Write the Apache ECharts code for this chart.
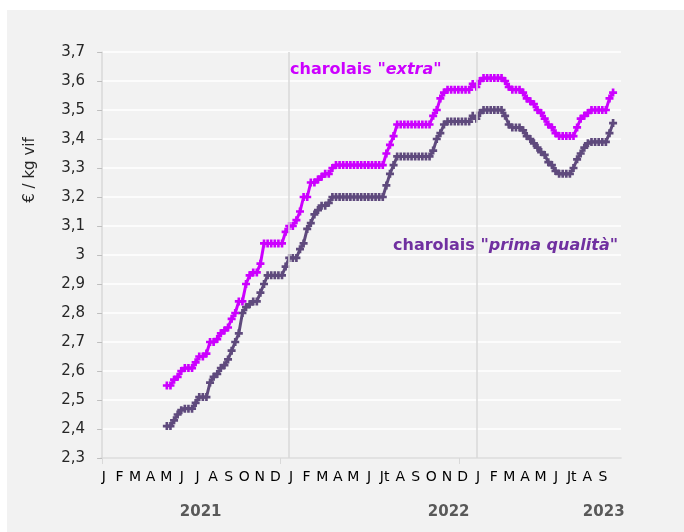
<!DOCTYPE html>
<html>
<head>
<meta charset="utf-8">
<script src="https://cdn.jsdelivr.net/npm/echarts@6/dist/echarts.min.js"></script>
<style>
  html, body { margin: 0; padding: 0; background: #ffffff; }
  #main { width: 684px; height: 532px; }
</style>
</head>
<body>
<div id="main"></div>
<script>
// weeks counted from first week of Jan 2021
var firstWeek = 18;
var extra = [
  2.55, 2.55, 2.57, 2.58, 2.60, 2.61, 2.61, 2.61, 2.63, 2.65, 2.65, 2.66,
  2.70, 2.70, 2.71, 2.73, 2.74, 2.75, 2.78, 2.80, 2.84, 2.84, 2.90, 2.93,
  2.94, 2.94, 2.97, 3.04, 3.04, 3.04, 3.04, 3.04, 3.04, 3.08, 3.10, 3.10,
  3.12, 3.15, 3.20, 3.20, 3.25, 3.25, 3.26, 3.27, 3.28, 3.28, 3.30, 3.31,
  3.31, 3.31, 3.31, 3.31, 3.31, 3.31, 3.31, 3.31, 3.31, 3.31, 3.31, 3.31,
  3.31, 3.35, 3.38, 3.41, 3.45, 3.45, 3.45, 3.45, 3.45, 3.45, 3.45, 3.45,
  3.45, 3.45, 3.48, 3.50, 3.54, 3.56, 3.57, 3.57, 3.57, 3.57, 3.57, 3.57,
  3.57, 3.59, 3.58, 3.60, 3.61, 3.61, 3.61, 3.61, 3.61, 3.61, 3.60, 3.58,
  3.57, 3.57, 3.57, 3.56, 3.54, 3.53, 3.52, 3.50, 3.49, 3.47, 3.45, 3.44,
  3.42, 3.41, 3.41, 3.41, 3.41, 3.41, 3.44, 3.47, 3.48, 3.49, 3.50, 3.50,
  3.50, 3.50, 3.50, 3.54, 3.56
];
var prima = [
  2.41, 2.41, 2.43, 2.45, 2.465, 2.47, 2.47, 2.47, 2.49, 2.51, 2.51, 2.51,
  2.56, 2.58, 2.59, 2.61, 2.62, 2.64, 2.67, 2.70, 2.73, 2.80, 2.82, 2.83,
  2.84, 2.84, 2.87, 2.90, 2.93, 2.93, 2.93, 2.93, 2.93, 2.96, 2.99, 2.99,
  2.99, 3.02, 3.04, 3.09, 3.11, 3.14, 3.155, 3.17, 3.17, 3.18, 3.20, 3.20,
  3.20, 3.20, 3.20, 3.20, 3.20, 3.20, 3.20, 3.20, 3.20, 3.20, 3.20, 3.20,
  3.20, 3.24, 3.28, 3.31, 3.34, 3.34, 3.34, 3.34, 3.34, 3.34, 3.34, 3.34,
  3.34, 3.34, 3.36, 3.40, 3.42, 3.45, 3.46, 3.46, 3.46, 3.46, 3.46, 3.46,
  3.46, 3.48, 3.47, 3.49, 3.50, 3.50, 3.50, 3.50, 3.50, 3.50, 3.48, 3.45,
  3.44, 3.44, 3.44, 3.43, 3.41, 3.40, 3.385, 3.37, 3.355, 3.345, 3.32, 3.31,
  3.29, 3.28, 3.28, 3.28, 3.28, 3.30, 3.33, 3.35, 3.37, 3.385, 3.39, 3.39,
  3.39, 3.39, 3.39, 3.42, 3.455
];
var monthLetters = [
  'J', 'F', 'M', 'A', 'M', 'J', 'J', 'A', 'S', 'O', 'N', 'D',
  'J', 'F', 'M', 'A', 'M', 'J', 'Jt', 'A', 'S', 'O', 'N', 'D',
  'J', 'F', 'M', 'A', 'M', 'J', 'Jt', 'A', 'S'
];
var years = ['2021', '2022', '2023'];
var yearLabelWeeks = [27.4, 96.3, 139.4];
var yearStarts = [52, 104];
var tickWeeks = [0, 49.6, 99.2];

var monthWeeks = monthLetters.map(function (m, i) {
  return +(i * 52 / 12 + 0.5).toFixed(3);
});

function pairs(vals) {
  return vals.map(function (v, i) { return [firstWeek + i, v]; });
}

function pick(list, names, v) {
  for (var k = 0; k < list.length; k++) {
    if (Math.abs(list[k] - v) < 0.01) return names[k];
  }
  return '';
}

var plus = 'path://M2,0H4V2H6V4H4V6H2V4H0V2H2Z';

var dom = document.getElementById('main');
var myChart = echarts.init(dom, null, { renderer: 'canvas' });
var font = 'DejaVu Sans';

var option = {
  animation: false,
  backgroundColor: '#ffffff',
  textStyle: { fontFamily: font },
  graphic: [
    { type: 'rect', z: -10, shape: { x: 7, y: 10, width: 677, height: 522 }, style: { fill: '#f2f2f2' } },
    {
      type: 'text', x: 30, y: 170, rotation: Math.PI / 2,
      style: { text: '€ / kg vif', font: '15px ' + font, fill: '#262626', align: 'center', verticalAlign: 'middle' }
    },
    {
      type: 'text', x: 290, y: 70,
      style: {
        text: '{b|charolais "}{i|extra}{b|"}',
        verticalAlign: 'middle',
        rich: {
          b: { fontFamily: font, fontWeight: 'bold', fontSize: 16, fill: '#cc00ff' },
          i: { fontFamily: font, fontWeight: 'bold', fontStyle: 'italic', fontSize: 16, fill: '#cc00ff' }
        }
      }
    },
    {
      type: 'text', x: 393, y: 246,
      style: {
        text: '{b|charolais "}{i|prima qualità}{b|"}',
        verticalAlign: 'middle',
        rich: {
          b: { fontFamily: font, fontWeight: 'bold', fontSize: 16, fill: '#7030a0' },
          i: { fontFamily: font, fontWeight: 'bold', fontStyle: 'italic', fontSize: 16, fill: '#7030a0' }
        }
      }
    }
  ],
  grid: { left: 101, right: 63, top: 52, bottom: 74 },
  xAxis: [{
    type: 'value',
    min: -0.3,
    max: 144.2,
    splitLine: { show: false },
    axisLine: { onZero: false, lineStyle: { color: '#d9d9d9', width: 1.5 } },
    axisTick: { show: true, customValues: tickWeeks, length: 6, lineStyle: { color: '#d9d9d9' } },
    axisLabel: {
      customValues: monthWeeks,
      margin: 12,
      color: '#000000',
      fontSize: 14,
      fontFamily: font,
      formatter: function (v) { return pick(monthWeeks, monthLetters, v); }
    }
  }, {
    type: 'value',
    min: -0.3,
    max: 144.2,
    position: 'bottom',
    offset: 39,
    splitLine: { show: false },
    axisLine: { show: false },
    axisTick: { show: false },
    axisLabel: {
      customValues: yearLabelWeeks,
      color: '#595959',
      fontSize: 15,
      fontWeight: 'bold',
      fontFamily: font,
      formatter: function (v) { return pick(yearLabelWeeks, years, v); }
    }
  }],
  yAxis: {
    type: 'value',
    min: 2.3,
    max: 3.7,
    interval: 0.1,
    axisLine: { show: true, lineStyle: { color: '#d9d9d9', width: 1.5 } },
    axisTick: { show: true, length: 5, lineStyle: { color: '#bfbfbf' } },
    splitLine: { lineStyle: { color: '#ffffff', width: 1.5 } },
    axisLabel: {
      margin: 16,
      color: '#262626',
      fontSize: 15,
      fontFamily: font,
      formatter: function (v) {
        return String(Number(v.toFixed(1))).replace('.', ',');
      }
    }
  },
  series: [{
    name: 'charolais "prima qualità"',
    type: 'line',
    data: pairs(prima),
    symbol: plus,
    symbolSize: 8,
    color: '#5f4a7d',
    lineStyle: { width: 3, color: '#5f4a7d' },
    itemStyle: { color: '#5f4a7d' },
    markLine: {
      silent: true,
      symbol: 'none',
      label: { show: false },
      lineStyle: { color: '#d9d9d9', width: 1.5, type: 'solid' },
      data: yearStarts.map(function (w) { return { xAxis: w }; })
    }
  }, {
    name: 'charolais "extra"',
    type: 'line',
    data: pairs(extra),
    symbol: plus,
    symbolSize: 8,
    color: '#cc00ff',
    lineStyle: { width: 3, color: '#cc00ff' },
    itemStyle: { color: '#cc00ff' }
  }]
};

myChart.setOption(option);
window.addEventListener('resize', myChart.resize);
</script>
</body>
</html>
